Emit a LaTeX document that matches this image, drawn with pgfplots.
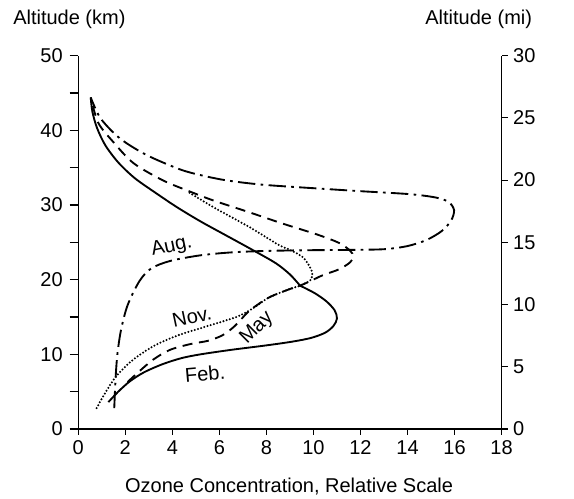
\documentclass[border=0pt]{standalone}
\usepackage{fontspec}
\setmainfont{Liberation Sans}
\usepackage{pgfplots}
\pgfplotsset{compat=1.18}
\begin{document}
\fontsize{15}{18}\selectfont
\begin{tikzpicture}
\path[use as bounding box] (-58.7pt,-52.5pt) rectangle (371.8pt,321.75pt);
\begin{axis}[
  width=317.5pt, height=280pt, scale only axis,
  xmin=0, xmax=18, ymin=0, ymax=50,
  axis x line*=bottom, axis y line*=left,
  xtick={0,2,...,18}, ytick={0,10,...,50}, minor ytick={5,15,...,45},
  tick align=outside,
  major tick length=6.5pt, minor tick length=6.5pt,
  x tick style={draw=none},
  tick style={black, line width=0.8pt},
  axis line style={line width=0.9pt},
  /pgf/number format/assume math mode=true,
  ticklabel style={font=\fontsize{15}{18}\selectfont},
  xticklabel style={yshift=3pt},
  clip=false,
]
% Feb. (solid), lower part up to the kink
\addplot[black, line width=1.4pt, smooth, tension=0.5] coordinates {
(1.28,3.6) (1.7,5.0) (2.2,6.4) (2.8,7.6) (3.6,8.7) (4.4,9.5) (5.2,10.0) (6.5,10.6) (8.0,11.2) (9.1,11.7) (9.9,12.2) (10.5,12.9) (10.85,13.8) (11.0,14.8) (10.9,15.9) (10.55,17.1) (10.05,18.2) (9.43,19.2)};
% Feb. (solid), upper part from the kink
\addplot[black, line width=1.4pt, smooth, tension=0.5] coordinates {
(9.43,19.2) (9.0,20.7) (8.4,22.2) (7.4,24.0) (6.3,25.9) (5.2,27.8) (4.2,29.7) (3.3,31.6) (2.4,33.6) (1.7,35.7) (1.15,38.0) (0.8,40.3) (0.6,42.5) (0.53,44.4)};
% Aug. (dash-dot)
\addplot[black, line width=1.4pt, smooth, tension=0.5, dash pattern=on 13pt off 4pt on 2pt off 4pt] coordinates {
(1.53,2.8) (1.56,5) (1.6,7.5) (1.67,10.2) (1.82,13.3) (2.1,16.6) (2.6,19.8) (3.1,21.5) (3.9,22.5) (5.17,23.25) (6.5,23.65) (8,23.85) (10,23.95) (12,24.0) (13.1,24.1) (14.0,24.5) (14.8,25.3) (15.45,26.5) (15.85,27.9) (15.98,29.3) (15.75,30.4) (15.2,31.0) (14.1,31.45) (12,31.85) (10.5,32.15) (7.9,32.7) (6.3,33.3) (5.2,34.0) (4.3,34.8) (2.9,36.7) (1.78,38.9) (0.95,41.6) (0.53,44.4)};
% May (dashed)
\addplot[black, line width=1.4pt, smooth, tension=0.5, dash pattern=on 7.5pt off 5pt] coordinates {
(2.1,6.3) (2.55,7.6) (3.19,9.3) (3.9,10.6) (4.8,11.4) (5.5,11.8) (6.1,12.5) (6.55,13.5) (6.9,14.6) (7.3,15.9) (8.1,17.6) (9.0,18.75) (9.43,19.2) (9.86,19.8) (10.4,20.6) (11.1,21.4) (11.55,22.3) (11.7,23.1) (11.55,23.9) (11.1,24.9) (10.2,26.0) (8.7,27.5) (7.2,29.1) (5.75,30.6) (4.75,31.8) (3.6,33.3) (2.35,35.6) (1.5,38.4) (0.85,41.0) (0.53,44.4)};
% Nov. (dotted)
\addplot[black, line width=1.7pt, smooth, tension=0.5, line cap=round, dash pattern=on 0pt off 2.5pt] coordinates {
(0.78,2.8) (1.14,4.8) (1.6,7.0) (2.3,9.2) (3.2,11.1) (4.2,12.5) (5.2,13.5) (6.03,14.3) (6.8,15.1) (7.4,16.1) (8.1,17.6) (9.0,18.75) (9.43,19.2) (9.86,19.9) (9.95,20.8) (9.85,21.7) (9.55,23.0) (9.0,24.0) (8.5,24.7) (7.3,27.0) (5.75,29.7) (4.65,31.8)};
\node[rotate=12, inner sep=0pt] at (axis cs:3.97,24.4) {Aug.};
\node[rotate=12, inner sep=0pt] at (axis cs:4.83,15.0) {Nov.};
\node[rotate=45, inner sep=0pt] at (axis cs:7.6,13.5) {May};
\node[rotate=5, inner sep=0pt] at (axis cs:5.39,7.45) {Feb.};
\node at (rel axis cs:-0.021,1.098) {Altitude (km)};
\node at (rel axis cs:0.946,1.098) {Altitude (mi)};
\node at (rel axis cs:0.498,-0.153) {Ozone Concentration, Relative Scale};
\end{axis}
\begin{axis}[
  width=317.5pt, height=280pt, scale only axis,
  xmin=0, xmax=18, ymin=0, ymax=30,
  axis x line*=bottom, axis y line*=right,
  x axis line style={draw=none},
  xtick={0,2,...,18}, xticklabels={},
  ytick={0,5,...,30},
  tick align=outside,
  major tick length=4.5pt,
  tick style={black, line width=0.8pt},
  axis line style={line width=0.9pt},
  /pgf/number format/assume math mode=true,
  ticklabel style={font=\fontsize{15}{18}\selectfont},
  yticklabel style={xshift=-1pt},
]
\addplot[draw=none] coordinates {(0,0)};
\end{axis}
\end{tikzpicture}
\end{document}
